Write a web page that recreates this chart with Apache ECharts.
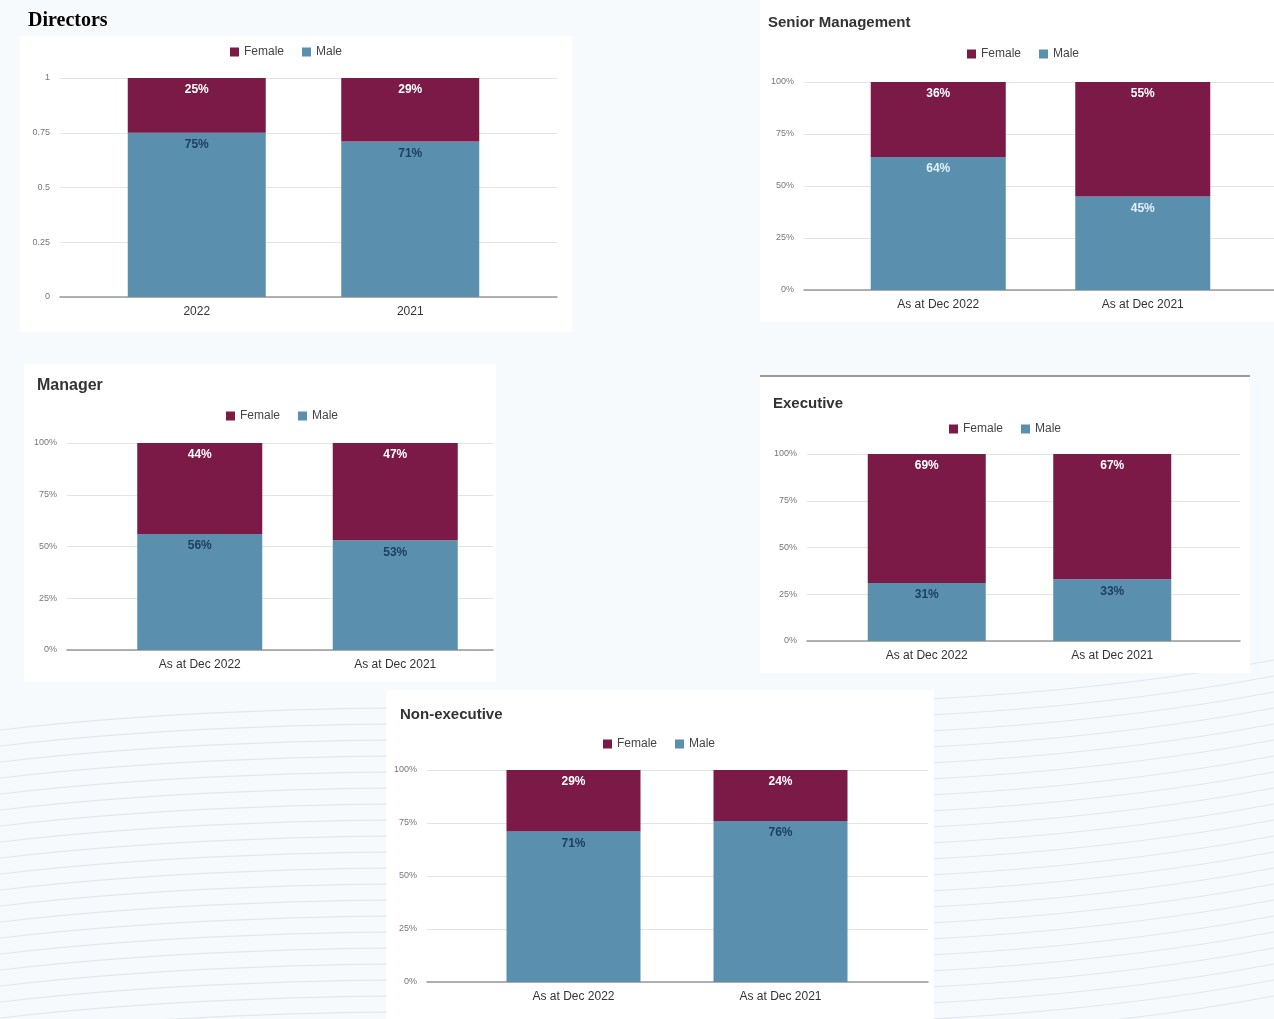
<!DOCTYPE html>
<html>
<head>
<meta charset="utf-8">
<script src="https://cdn.jsdelivr.net/npm/echarts@6/dist/echarts.min.js"></script>
<style>
html,body{margin:0;padding:0;background:#f7fafc;}
#c{width:1274px;height:1019px;}
</style>
</head>
<body>
<div id="c"></div>
<script>
// ---- data ----
const seriesNames = ['Female', 'Male'];
const directorsCats = ['2022', '2021'];
const directorsFemale = [25, 29];
const directorsMale = [75, 71];
const seniorCats = ['As at Dec 2022', 'As at Dec 2021'];
const seniorFemale = [36, 55];
const seniorMale = [64, 45];
const managerCats = ['As at Dec 2022', 'As at Dec 2021'];
const managerFemale = [44, 47];
const managerMale = [56, 53];
const execCats = ['As at Dec 2022', 'As at Dec 2021'];
const execFemale = [69, 67];
const execMale = [31, 33];
const nonExecCats = ['As at Dec 2022', 'As at Dec 2021'];
const nonExecFemale = [29, 24];
const nonExecMale = [71, 76];
const fracTicks = ['0', '0.25', '0.5', '0.75', '1'];
const pctTicks = ['0%', '25%', '50%', '75%', '100%'];

const FEMALE = '#7b1a47', MALE = '#5b8fae';

const charts = [
  {title:'Directors', serif:true, tx:28, ty:11, tsize:20, legendX:287, legendY:41,
   frame:{l:60, r:557, t:78, b:297}, bars:{l:90, r:517}, bw:138,
   cats:directorsCats, f:directorsFemale, m:directorsMale, ticks:fracTicks, maleLabel:'#1d3f63',
   panel:[20,36,552,296]},
  {title:'Senior Management', tx:768, ty:15, tsize:15, legendX:1024, legendY:43,
   frame:{l:804, r:1274, t:82, b:290}, bars:{l:836, r:1245}, bw:135,
   cats:seniorCats, f:seniorFemale, m:seniorMale, ticks:pctTicks, maleLabel:'#e3f1f7',
   panel:[760,0,514,322]},
  {title:'Manager', tx:37, ty:378, tsize:16, legendX:283, legendY:405,
   frame:{l:67, r:493, t:443, b:650}, bars:{l:102, r:493}, bw:125,
   cats:managerCats, f:managerFemale, m:managerMale, ticks:pctTicks, maleLabel:'#1d3f63',
   panel:[24,364,472,318]},
  {title:'Executive', tx:773, ty:396, tsize:15, legendX:1006, legendY:418,
   frame:{l:807, r:1240, t:454, b:641}, bars:{l:834, r:1205}, bw:118,
   cats:execCats, f:execFemale, m:execMale, ticks:pctTicks, maleLabel:'#1d3f63',
   panel:[760,377,490,296]},
  {title:'Non-executive', tx:400, ty:707, tsize:15, legendX:660, legendY:733,
   frame:{l:427, r:928, t:770, b:982}, bars:{l:470, r:884}, bw:134,
   cats:nonExecCats, f:nonExecFemale, m:nonExecMale, ticks:pctTicks, maleLabel:'#1d3f63',
   panel:[386,690,548,329]}
];

const grid = [], xAxis = [], yAxis = [], series = [], legend = [], title = [], graphic = [];

// decorative background wave lines
for (let i = 0; i < 22; i++) {
  const y0 = 690 + i * 16;
  graphic.push({type:'bezierCurve', silent:true, z:-10,
    shape:{x1:0, y1:y0+40, x2:1274, y2:y0-30, cpx1:420, cpy1:y0-10, cpx2:850, cpy2:y0+50},
    style:{stroke:'#e1e7ee', lineWidth:1.2, fill:null}});
}
charts.forEach(c => {
  graphic.push({type:'rect', silent:true, z:-5,
    shape:{x:c.panel[0], y:c.panel[1], width:c.panel[2], height:c.panel[3]},
    style:{fill:'#ffffff'}});
});
graphic.push({type:'line', silent:true, shape:{x1:760, y1:376, x2:1250, y2:376},
  style:{stroke:'#9a9a9a', lineWidth:2}});

const LEGEND_HALF = 62;
charts.forEach((c, k) => {
  title.push({text:c.title, left:c.tx - 5, top:c.ty - 5,
    textStyle:{fontSize:c.tsize, fontWeight:'bold',
      fontFamily: c.serif ? 'Liberation Serif, Times New Roman, serif' : 'Liberation Sans, Arial, sans-serif',
      color: c.serif ? '#000' : '#333'}});
  legend.push({data:seriesNames, left:c.legendX - LEGEND_HALF, top:c.legendY, icon:'rect',
    itemWidth:9, itemHeight:9, itemGap:18, selectedMode:false,
    textStyle:{fontSize:12, color:'#444', fontFamily:'Liberation Sans, Arial, sans-serif'}});
  // frame grid: gridlines, y labels, baseline
  const gf = grid.length;
  grid.push({left:c.frame.l, width:c.frame.r - c.frame.l, top:c.frame.t, height:c.frame.b - c.frame.t});
  xAxis.push({type:'value', gridIndex:gf, min:0, max:1, show:true,
    axisLine:{show:true, lineStyle:{color:'#999', width:1.5}}, axisTick:{show:false},
    axisLabel:{show:false}, splitLine:{show:false}});
  yAxis.push({type:'value', gridIndex:gf, min:0, max:100, interval:25,
    axisLine:{show:false}, axisTick:{show:false},
    axisLabel:{fontSize:9, color:'#777', margin:10,
      formatter: v => c.ticks[Math.round(v / 25)]},
    splitLine:{lineStyle:{color:'#e4e4e4'}}});
  // bar grid
  const gb = grid.length;
  grid.push({left:c.bars.l, width:c.bars.r - c.bars.l, top:c.frame.t, height:c.frame.b - c.frame.t});
  xAxis.push({type:'category', gridIndex:gb, data:c.cats,
    axisLine:{show:false}, axisTick:{show:false},
    axisLabel:{fontSize:12, color:'#333', margin:9, fontFamily:'Liberation Sans, Arial, sans-serif'}});
  yAxis.push({type:'value', gridIndex:gb, min:0, max:100, show:false, splitLine:{show:false}});
  const ax = xAxis.length - 1, ay = yAxis.length - 1;
  series.push({name:'Male', type:'bar', stack:'s'+k, xAxisIndex:ax, yAxisIndex:ay,
    data:c.m, barWidth:c.bw, itemStyle:{color:MALE},
    label:{show:true, position:'insideTop', distance:6, formatter:'{c}%',
      color:c.maleLabel, fontSize:12, fontWeight:'bold', fontFamily:'Liberation Sans, Arial, sans-serif'}});
  series.push({name:'Female', type:'bar', stack:'s'+k, xAxisIndex:ax, yAxisIndex:ay,
    data:c.f, barWidth:c.bw, itemStyle:{color:FEMALE},
    label:{show:true, position:'insideTop', distance:6, formatter:'{c}%',
      color:'#ffffff', fontSize:12, fontWeight:'bold', fontFamily:'Liberation Sans, Arial, sans-serif'}});
});

const chart = echarts.init(document.getElementById('c'), null, {renderer:'canvas'});
chart.setOption({
  animation:false,
  backgroundColor:'#f7fafc',
  color:[FEMALE, MALE],
  title, legend, grid, xAxis, yAxis, series, graphic
});
</script>
</body>
</html>
